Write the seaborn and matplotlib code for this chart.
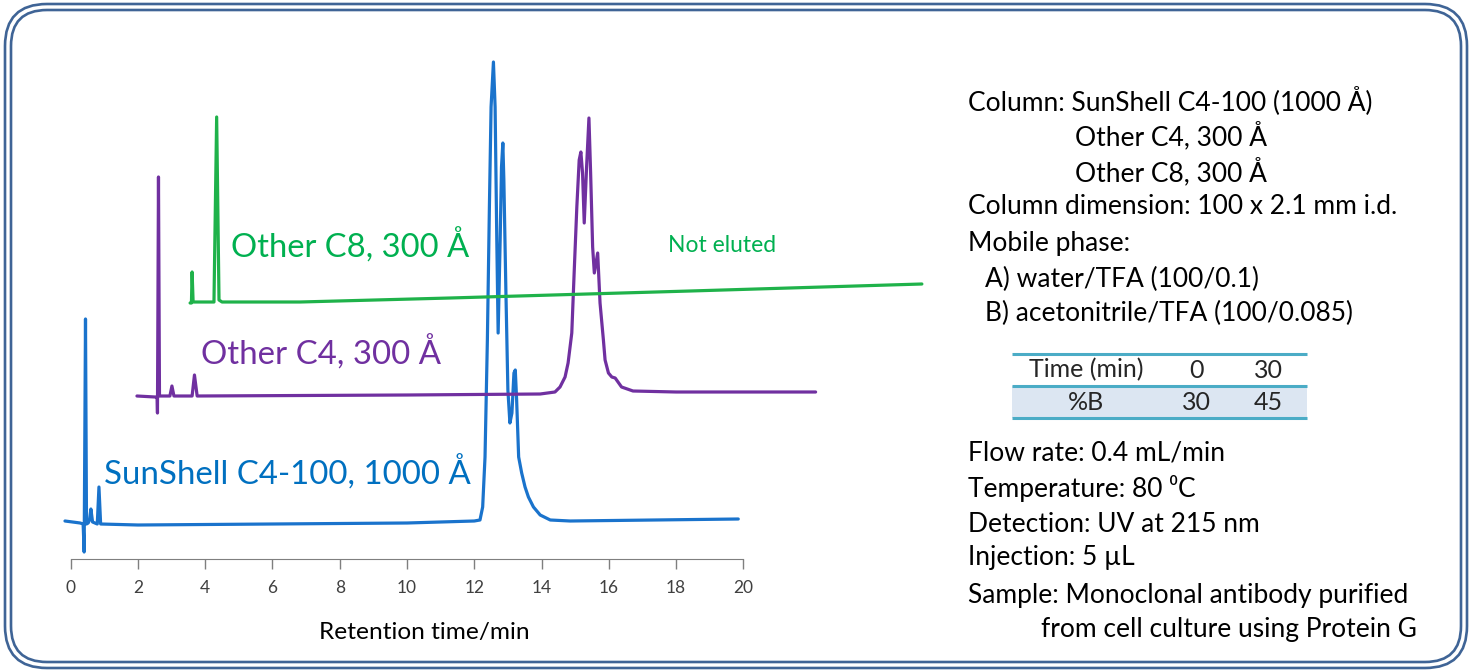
import numpy as np
import pandas as pd
import matplotlib
matplotlib.use('Agg')
import matplotlib.pyplot as plt
import seaborn as sns
from matplotlib.patches import FancyBboxPatch, Rectangle

# Chromatogram traces (time in min, signal in arbitrary units)
sunshell_time = [-0.17, 0.28, 0.37, 0.40, 0.44, 0.47, 0.52, 0.56, 0.60, 0.65, 0.79, 0.84, 0.89,
                 2.0, 6.0, 10.0, 12.0, 12.17, 12.25, 12.32, 12.39, 12.45, 12.50, 12.57, 12.62,
                 12.67, 12.71, 12.77, 12.81, 12.85, 12.88, 12.94, 13.00, 13.06, 13.12, 13.18,
                 13.22, 13.26, 13.32, 13.41, 13.51, 13.61, 13.76, 13.96, 14.26, 14.85, 19.85]
sunshell_signal = [38, 36, 35, 7, 240, 35, 36, 39, 50, 37, 35, 72, 35,
                   34, 35, 36, 38, 39, 52, 102, 219, 352, 452, 497, 452,
                   319, 226, 319, 392, 416, 379, 269, 169, 136, 146, 186,
                   189, 159, 102, 86, 72, 62, 52, 44, 39, 38, 40]

c4_time = [1.97, 2.51, 2.57, 2.58, 2.61, 2.64, 2.95, 3.01, 3.07, 3.61, 3.68, 3.76,
           10.0, 13.96, 14.40, 14.55, 14.70, 14.79, 14.90, 14.97, 15.05, 15.12, 15.17,
           15.22, 15.27, 15.34, 15.41, 15.46, 15.52, 15.57, 15.67, 15.74, 15.84, 15.89,
           15.99, 16.09, 16.19, 16.38, 16.72, 18.0, 22.15]
c4_signal = [163, 162, 162, 146, 382, 163, 163, 173, 163, 163, 184, 163,
             164, 165, 167, 172, 182, 196, 226, 286, 352, 399, 407,
             386, 336, 392, 441, 386, 312, 286, 306, 256, 219, 199,
             186, 182, 181, 172, 168, 167, 167]

c8_time = [3.55, 3.59, 3.61, 3.64, 4.26, 4.34, 4.41, 4.50, 6.82, 11.28, 18.42, 25.31]
c8_signal = [256, 256, 287, 257, 257, 442, 259, 257, 257, 261, 268, 275]

x_ticks = [0, 2, 4, 6, 8, 10, 12, 14, 16, 18, 20]

gradient_time = [0, 30]
gradient_b = [30, 45]

blue = '#1a73cc'
purple = '#7030a0'
green = '#1fb24a'

sns.set_style('white')
plt.rcParams['font.family'] = ['Lato', 'DejaVu Sans']

W, H = 1473, 672
fig = plt.figure(figsize=(W / 100, H / 100), dpi=100)

# overlay axes in pixel units for frame and text
ov = fig.add_axes([0, 0, 1, 1])
ov.set_xlim(0, W)
ov.set_ylim(H, 0)
ov.axis('off')

frame_color = '#3f6496'
for x0, y0, x1, y1, r in [(5, 4, 1467, 668, 42), (11, 10, 1461, 662, 36)]:
    ov.add_patch(FancyBboxPatch((x0, y0), x1 - x0, y1 - y0,
                                boxstyle=f'round,pad=0,rounding_size={r}',
                                fill=False, edgecolor=frame_color, linewidth=1.9))

# chart axes: t = (px - 70.7) / 33.63, signal = 559 - py
ax = fig.add_axes([40 / W, 113 / H, 900 / W, 519 / H])
ax.patch.set_alpha(0)
traces = [
    (sunshell_time, sunshell_signal, blue),
    (c4_time, c4_signal, purple),
    (c8_time, c8_signal, green),
]
for t, s, col in traces:
    df = pd.DataFrame({'time': t, 'signal': s})
    sns.lineplot(data=df, x='time', y='signal', sort=False, estimator=None,
                 color=col, linewidth=2.3, ax=ax)

ax.set_xlim((40 - 70.7) / 33.63, (940 - 70.7) / 33.63)
ax.set_ylim(0, 519)
for side in ['left', 'right', 'top']:
    ax.spines[side].set_visible(False)
ax.spines['bottom'].set_bounds(0, 20)
ax.spines['bottom'].set_color('#7f7f7f')
ax.set_xticks(x_ticks)
ax.set_xticklabels([str(v) for v in x_ticks])
ax.set_yticks([])
ax.tick_params(axis='x', direction='out', length=7, width=1, color='#7f7f7f',
               pad=8, labelsize=12.5, labelcolor='#404040', bottom=True)
ax.set_xlabel('')
ax.set_ylabel('')

# trace labels
ov.text(231, 246, 'Other C8, 300 Å', color='#00b050', fontsize=23.6, va='center', ha='left')
ov.text(668, 246, 'Not eluted', color='#00b050', fontsize=16.5, va='center', ha='left')
ov.text(201, 353, 'Other C4, 300 Å', color=purple, fontsize=23.8, va='center', ha='left')
ov.text(104, 473, 'SunShell C4-100, 1000 Å', color='#0070c0', fontsize=23.8, va='center', ha='left')
ov.text(424, 632, 'Retention time/min', color='black', fontsize=17.6, va='center', ha='center')

# conditions block
fs = 19
lines = [
    (968, 101, 'Column: SunShell C4-100 (1000 Å)'),
    (1075, 136, 'Other C4, 300 Å'),
    (1075, 172, 'Other C8, 300 Å'),
    (968, 206, 'Column dimension: 100 x 2.1 mm i.d.'),
    (968, 244, 'Mobile phase:'),
    (985, 279, 'A) water/TFA (100/0.1)'),
    (985, 313, 'B) acetonitrile/TFA (100/0.085)'),
    (968, 453, 'Flow rate: 0.4 mL/min'),
    (968, 488, 'Temperature: 80 \u2070C'),
    (968, 524, 'Detection: UV at 215 nm'),
    (968, 558, 'Injection: 5 µL'),
    (968, 595, 'Sample: Monoclonal antibody purified'),
    (1041, 630, 'from cell culture using Protein G'),
]
for x, y, s in lines:
    ov.text(x, y, s, fontsize=fs, va='center', ha='left', color='black')

# gradient table
tbl_line = '#4bacc6'
ov.add_patch(Rectangle((1012, 386), 295, 32, facecolor='#dce6f2', edgecolor='none'))
for y in [354, 386, 418]:
    ov.plot([1012, 1307], [y, y], color=tbl_line, linewidth=2.2, solid_capstyle='butt')
col_x = [1086, 1196, 1268]
ov.text(col_x[0], 370, 'Time (min)', fontsize=18, ha='center', va='center')
ov.text(col_x[0], 402, '%B', fontsize=18, ha='center', va='center')
for cx, tv, bv in zip(col_x[1:], gradient_time, gradient_b):
    ov.text(cx, 370, str(tv), fontsize=18, ha='center', va='center')
    ov.text(cx, 402, str(bv), fontsize=18, ha='center', va='center')

fig.savefig('out.png', dpi=100)
